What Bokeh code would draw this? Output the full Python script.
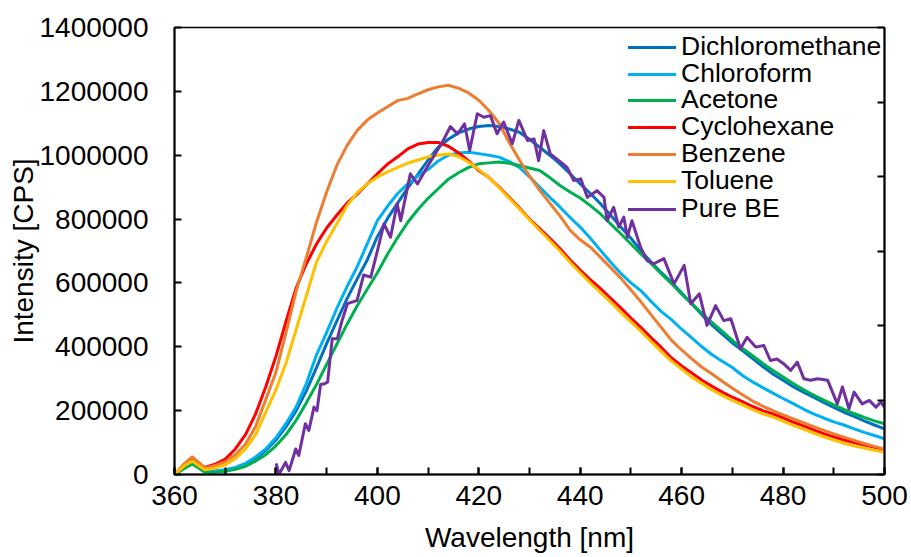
from bokeh.plotting import figure
from bokeh.models import (Range1d, LinearAxis, FixedTicker, SingleIntervalTicker,
                          NumeralTickFormatter, Legend, LegendItem)
from bokeh.embed import file_html
from bokeh.resources import INLINE

# ---------------- data ----------------
wavelength = [360, 362, 363.5, 365, 366,
              368, 370, 372, 374, 376, 378, 380, 382, 384, 386, 388, 390, 392, 394, 396, 398, 400,
              402, 404, 406, 408, 410, 412, 414, 416, 418, 420, 422, 424, 426, 428, 430, 432, 434,
              436, 438, 440, 442, 444, 446, 448, 450, 452, 454, 456, 458, 460, 462, 464, 466, 468,
              470, 472, 474, 476, 478, 480, 482, 484, 486, 488, 490, 492, 494, 496, 498, 500]

dichloromethane = [0, 25000, 40000, 25000, 12000,
                   10000, 14000, 20000, 32000, 50000, 75000, 108000, 150000, 200000, 262000, 335000,
                   410000, 480000, 550000, 612000, 672000, 745000, 802000, 850000, 898000, 940000,
                   985000, 1025000, 1050000, 1070000, 1082000, 1090000, 1093000, 1090000, 1082000,
                   1072000, 1050000, 1025000, 1000000, 973000, 942000, 910000, 880000, 848000, 812000,
                   775000, 740000, 700000, 665000, 632000, 602000, 568000, 535000, 500000, 468000,
                   440000, 412000, 388000, 363000, 338000, 315000, 295000, 275000, 258000, 242000,
                   226000, 210000, 195000, 182000, 168000, 155000, 143000]

chloroform = [0, 25000, 38000, 22000, 10000,
              10000, 15000, 22000, 35000, 55000, 80000, 115000, 160000, 212000, 285000, 375000,
              445000, 520000, 588000, 650000, 722000, 795000, 840000, 880000, 910000, 935000,
              955000, 982000, 1000000, 1007000, 1009000, 1005000, 1000000, 994000, 980000, 962000,
              932000, 900000, 868000, 838000, 805000, 775000, 740000, 702000, 665000, 630000,
              600000, 575000, 542000, 510000, 485000, 455000, 428000, 400000, 375000, 355000,
              335000, 310000, 290000, 272000, 255000, 238000, 222000, 205000, 190000, 177000,
              165000, 155000, 143000, 132000, 122000, 112000]

acetone = [0, 20000, 32000, 18000, 6000,
           6000, 10000, 16000, 26000, 42000, 62000, 90000, 125000, 170000, 225000, 282000,
           345000, 408000, 470000, 528000, 580000, 632000, 690000, 742000, 790000, 830000,
           865000, 895000, 925000, 945000, 962000, 973000, 976000, 979000, 975000, 968000,
           960000, 952000, 930000, 905000, 885000, 866000, 842000, 816000, 785000, 754000,
           722000, 690000, 660000, 628000, 598000, 565000, 535000, 505000, 476000, 448000,
           420000, 395000, 372000, 348000, 326000, 305000, 285000, 266000, 249000, 233000,
           218000, 204000, 191000, 179000, 168000, 159000]

cyclohexane = [0, 30000, 48000, 32000, 22000,
               32000, 48000, 80000, 125000, 190000, 275000, 370000, 480000, 585000, 660000, 722000,
               772000, 812000, 850000, 878000, 910000, 942000, 972000, 995000, 1020000, 1035000,
               1040000, 1040000, 1028000, 1008000, 982000, 952000, 930000, 900000, 868000, 835000,
               800000, 770000, 740000, 708000, 672000, 640000, 610000, 582000, 552000, 522000,
               490000, 460000, 428000, 398000, 365000, 340000, 318000, 295000, 276000, 258000,
               242000, 228000, 213000, 200000, 190000, 177000, 164000, 152000, 140000, 128000,
               118000, 108000, 100000, 92000, 85000, 78000]

benzene = [0, 35000, 55000, 35000, 20000,
           28000, 40000, 62000, 95000, 150000, 235000, 320000, 445000, 575000, 680000, 790000,
           885000, 968000, 1030000, 1077000, 1110000, 1132000, 1152000, 1171000, 1178000, 1192000,
           1205000, 1214000, 1219000, 1210000, 1195000, 1172000, 1140000, 1100000, 1040000, 985000,
           935000, 890000, 850000, 810000, 765000, 735000, 712000, 680000, 648000, 615000,
           578000, 540000, 500000, 460000, 420000, 390000, 362000, 336000, 315000, 292000,
           270000, 250000, 230000, 214000, 200000, 187000, 174000, 162000, 150000, 138000,
           127000, 117000, 107000, 97000, 88000, 80000]

toluene = [0, 28000, 42000, 25000, 15000,
           20000, 30000, 50000, 80000, 125000, 195000, 265000, 350000, 455000, 560000, 665000,
           730000, 785000, 842000, 882000, 910000, 932000, 948000, 962000, 975000, 985000,
           995000, 1000000, 1004000, 996000, 978000, 955000, 930000, 898000, 865000, 832000,
           798000, 765000, 733000, 700000, 665000, 632000, 600000, 570000, 540000, 508000,
           478000, 448000, 416000, 385000, 355000, 330000, 305000, 285000, 265000, 248000,
           232000, 218000, 203000, 190000, 180000, 167000, 154000, 142000, 130000, 118000,
           108000, 98000, 90000, 83000, 76000, 70000]

be_wavelength = [380.1, 380.6, 381.9, 382.6, 383.9, 384.5, 385.8, 386.5, 387.5, 388.1,
                 388.8, 389.6, 390.2, 391.1, 392.1, 393.0, 394.1, 395.0, 396.0, 397.3,
                 398.7, 400.0, 401.3, 402.6, 403.9, 404.6, 406.5, 407.9, 409.8, 411.8,
                 412.8, 414.4, 415.8, 417.2, 418.2, 419.7, 421.0, 422.3, 423.6, 424.9,
                 426.6, 427.9, 429.6, 430.9, 431.8, 432.8, 434.1, 435.8, 437.4, 438.7,
                 440.1, 441.4, 443.3, 444.7, 445.3, 446.6, 447.6, 448.6, 449.3, 450.2,
                 451.9, 453.2, 454.5, 456.5, 458.5, 460.5, 461.8, 463.5, 465.0, 466.7,
                 468.3, 469.7, 471.6, 472.9, 474.6, 476.2, 477.5, 478.8, 480.1, 481.5,
                 482.8, 484.1, 485.4, 486.8, 488.8, 490.7, 491.7, 493.0, 494.0, 495.6,
                 497.0, 498.3, 499.3, 500.0]
pure_be = [31000, 0, 38000, 12000, 80000, 60000, 159000, 138000, 211000, 200000,
           282000, 284000, 290000, 425000, 425000, 480000, 535000, 540000, 545000, 625000,
           618000, 700000, 785000, 743000, 848000, 795000, 942000, 910000, 962000, 1015000,
           1040000, 1090000, 1067000, 1098000, 1015000, 1130000, 1119000, 1124000, 1067000, 1104000,
           1036000, 1109000, 1046000, 1051000, 983000, 1077000, 1004000, 983000, 962000, 921000,
           926000, 868000, 889000, 868000, 795000, 837000, 775000, 806000, 743000, 795000,
           712000, 670000, 660000, 676000, 597000, 655000, 535000, 566000, 467000, 529000,
           482000, 488000, 394000, 430000, 399000, 404000, 357000, 362000, 347000, 326000,
           352000, 300000, 295000, 300000, 295000, 221000, 274000, 206000, 258000, 221000,
           232000, 211000, 227000, 211000]

series_names = ["Dichloromethane", "Chloroform", "Acetone", "Cyclohexane", "Benzene", "Toluene", "Pure BE"]
series_colors = ["#0070C0", "#00B0F0", "#00B050", "#FF0000", "#ED7D31", "#FFC000", "#7030A0"]
right_axis_ticks = [0, 1, 2, 3, 4, 5, 6]

FONT = "Liberation Sans"

p = figure(width=911, height=557, output_backend="svg", toolbar_location=None,
           x_range=Range1d(360, 500), y_range=Range1d(0, 1400000),
           min_border_left=174, min_border_right=27, min_border_top=27, min_border_bottom=83)
p.background_fill_color = "white"
p.border_fill_color = "white"
p.xgrid.visible = False
p.ygrid.visible = False
p.outline_line_color = "black"
p.outline_line_width = 1.5

# x axis
xa = p.xaxis[0]
xa.ticker = SingleIntervalTicker(interval=20, num_minor_ticks=2)
xa.axis_label = "Wavelength [nm]"
# y axis
ya = p.yaxis[0]
ya.ticker = SingleIntervalTicker(interval=200000, num_minor_ticks=0)
ya.formatter = NumeralTickFormatter(format="0")
ya.axis_label = "Intensity [CPS]"

for ax in (xa, ya):
    ax.axis_line_width = 2
    ax.axis_line_color = "black"
    ax.major_tick_in = 7
    ax.major_tick_out = 0
    ax.minor_tick_in = 7
    ax.minor_tick_out = 0
    ax.major_tick_line_width = 2
    ax.minor_tick_line_width = 2
    ax.major_tick_line_color = "black"
    ax.minor_tick_line_color = "black"
    ax.major_label_text_font = FONT
    ax.major_label_text_font_size = "28px"
    ax.major_label_text_color = "black"
    ax.axis_label_text_font = FONT
    ax.axis_label_text_font_size = "28px"
    ax.axis_label_text_font_style = "normal"
    ax.axis_label_text_color = "black"
ya.minor_tick_line_color = None
xa.major_label_standoff = 11
xa.axis_label_standoff = 14
ya.major_label_standoff = 26
ya.axis_label_standoff = -3

# right-hand secondary axis (ticks only, no labels)
p.extra_y_ranges = {"right": Range1d(0, 6)}
ra = LinearAxis(y_range_name="right", ticker=FixedTicker(ticks=right_axis_ticks))
ra.major_label_overrides = {t: "" for t in right_axis_ticks}
ra.major_label_standoff = 0
ra.major_tick_in = 7
ra.major_tick_out = 0
ra.minor_tick_line_color = None
ra.major_tick_line_width = 2
ra.axis_line_width = 2
ra.axis_line_color = "black"
p.add_layout(ra, "right")

series_x = [wavelength] * 6 + [be_wavelength]
series_y = [dichloromethane, chloroform, acetone, cyclohexane, benzene, toluene, pure_be]

renderers = []
for name, color, xs, ys in zip(series_names, series_colors, series_x, series_y):
    r = p.line(xs, ys, line_color=color, line_width=3, line_join="round", line_cap="round")
    renderers.append(r)

# one single-entry legend per row, to reproduce the tight row pitch of the original
row_offsets = [412, 385, 359, 332, 305, 278, 250]
for name, r, yoff in zip(series_names, renderers, row_offsets):
    lg = Legend(items=[LegendItem(label=name, renderers=[r])], location=(454, yoff))
    lg.label_text_font = FONT
    lg.label_text_font_size = "26.5px"
    lg.label_text_color = "black"
    lg.glyph_width = 48
    lg.glyph_height = 20
    lg.label_standoff = 5
    lg.label_height = 20
    lg.padding = 0
    lg.margin = 0
    lg.spacing = 0
    lg.background_fill_alpha = 0
    lg.border_line_alpha = 0
    p.add_layout(lg)

open("out.html", "w").write(file_html(p, INLINE))
